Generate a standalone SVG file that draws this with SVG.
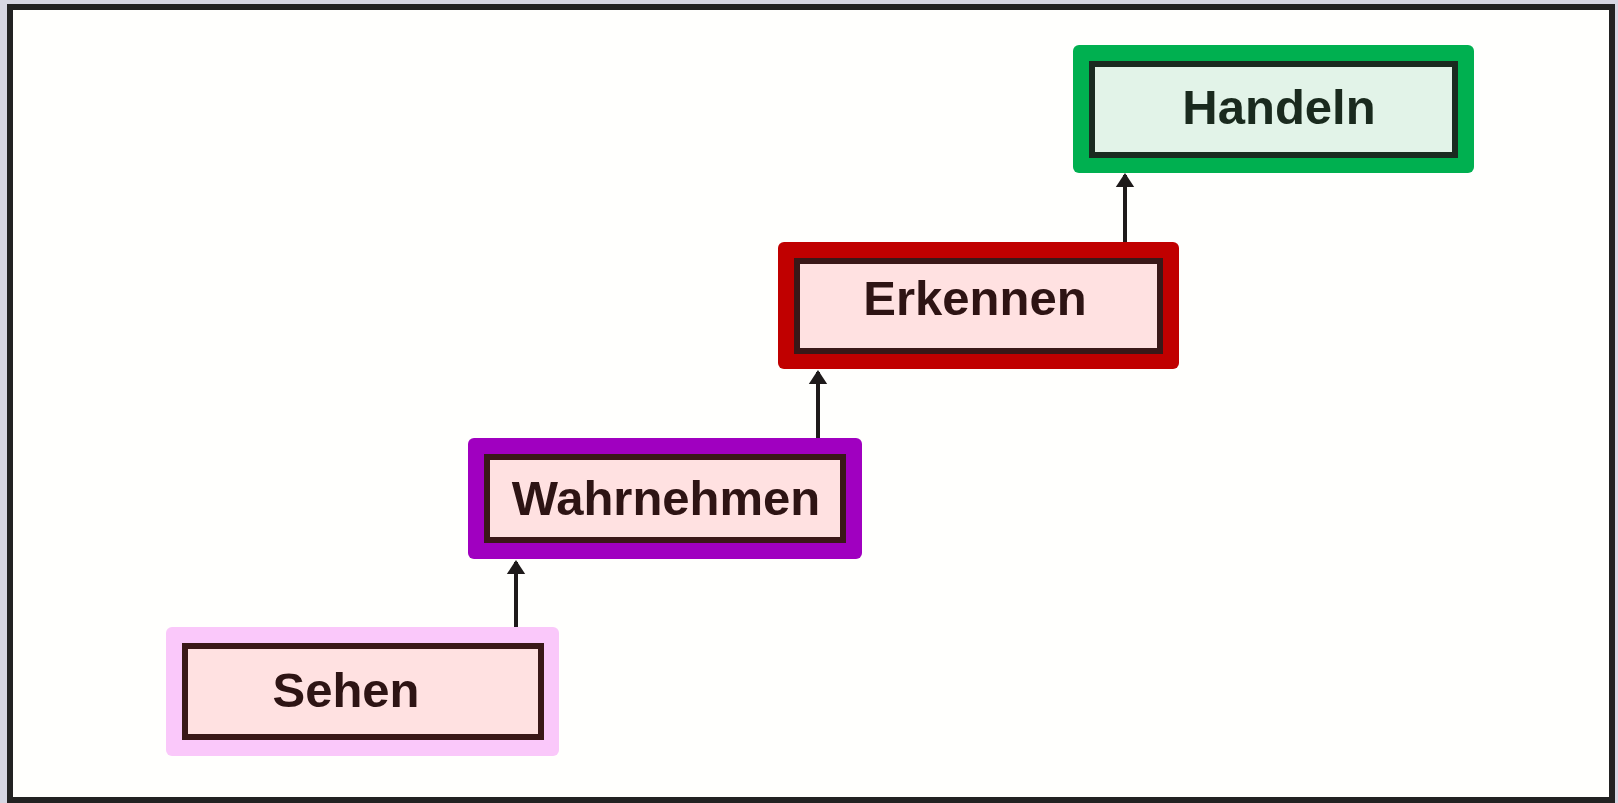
<svg xmlns="http://www.w3.org/2000/svg" width="1618" height="803" viewBox="0 0 1618 803">
  <defs>
    <style>
      .outer { stroke: none; }
      .inner { stroke-width: 6; }
      .lbl { font-family: "Liberation Sans", Arial, sans-serif; font-weight: bold; font-size: 49px; text-anchor: middle; }
      .conn { stroke: #1e1a1a; stroke-width: 4; fill: none; }
    </style>
    <marker id="arr" markerWidth="3.5" markerHeight="5" refX="3" refY="2.5" orient="auto" markerUnits="strokeWidth">
      <path d="M0,0.2 L3.5,2.5 L0,4.8 Z" fill="#1e1a1a"/>
    </marker>
  </defs>
  <rect x="0" y="0" width="1618" height="803" fill="#d6d6e2"/>
  <rect x="10" y="7" width="1602" height="793" fill="#fffffd" stroke="#222222" stroke-width="6"/>

  <g id="connectors">
    <line class="conn" x1="516" y1="627" x2="516" y2="562" marker-end="url(#arr)"/>
    <line class="conn" x1="818" y1="438" x2="818" y2="372" marker-end="url(#arr)"/>
    <line class="conn" x1="1125" y1="242" x2="1125" y2="175" marker-end="url(#arr)"/>
  </g>

  <g id="sehen">
    <rect class="outer" x="166" y="627" width="393" height="129" rx="6" fill="#fac8fa"/>
    <rect class="inner" x="185" y="646" width="356" height="91" fill="#ffe1e1" stroke="#3a1818"/>
    <text class="lbl" x="346" y="707" fill="#2e1414">Sehen</text>
  </g>

  <g id="wahrnehmen">
    <rect class="outer" x="468" y="438" width="394" height="121" rx="6" fill="#a000c0"/>
    <rect class="inner" x="487" y="457" width="356" height="83" fill="#ffe1e1" stroke="#3a1818"/>
    <text class="lbl" x="666" y="515" fill="#2e1414">Wahrnehmen</text>
  </g>

  <g id="erkennen">
    <rect class="outer" x="778" y="242" width="401" height="127" rx="6" fill="#c00000"/>
    <rect class="inner" x="797" y="261" width="363" height="90" fill="#ffe1e1" stroke="#3a1818"/>
    <text class="lbl" x="975" y="315" fill="#2e1414">Erkennen</text>
  </g>

  <g id="handeln">
    <rect class="outer" x="1073" y="45" width="401" height="128" rx="6" fill="#00b050"/>
    <rect class="inner" x="1092" y="64" width="363" height="91" fill="#e2f3e8" stroke="#1a2a20"/>
    <text class="lbl" x="1279" y="124" fill="#1a2a1e">Handeln</text>
  </g>
</svg>
